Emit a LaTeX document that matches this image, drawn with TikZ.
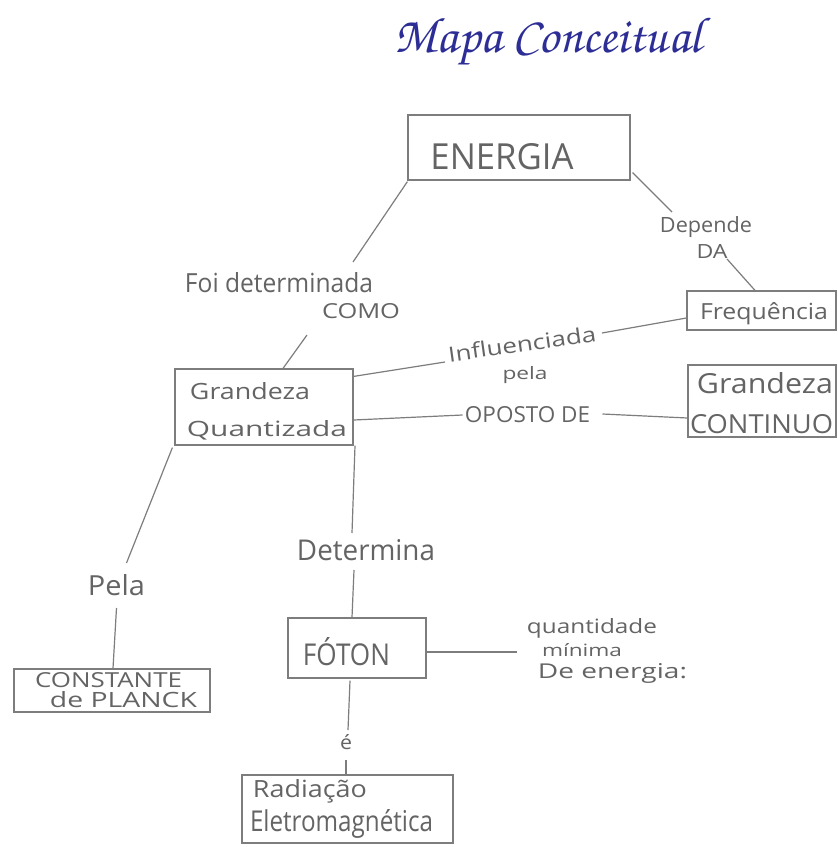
\documentclass[tikz,border=0pt]{standalone}
\usepackage[T1]{fontenc}
\usepackage{fontspec}
\newfontfamily\handfont{Open Sans}
\usetikzlibrary{calc}
\definecolor{pencil}{RGB}{125,125,125}
\definecolor{graphite}{RGB}{100,100,100}
\definecolor{ink}{RGB}{45,45,150}
% set a piece of text to a given width and height above the baseline (in pt)
\newcommand\txtw[3]{\resizebox{#1pt}{#2pt}{#3}}
\newcommand\titlehand{\fontencoding{T1}\fontfamily{pzc}\fontseries{mb}\fontshape{it}\selectfont}

\begin{document}
\begin{tikzpicture}[x=1pt,y=-1pt,
  concept/.style={draw=pencil, line width=1.2pt, inner sep=0pt, rectangle},
  words/.style={inner sep=0pt, text=graphite, font=\handfont},
  link/.style={draw=pencil, line width=1.2pt}]
\useasboundingbox[fill=white] (0,0) rectangle (838,847);

% title
\node[inner sep=0pt, text=ink, font=\titlehand] (title) at (548,42) {\resizebox{307pt}{!}{Mapa Conceitual}};

% concept boxes
\node[concept, minimum width=222pt, minimum height=65pt] (energia) at (519,147.5) {};
\node[concept, minimum width=178pt, minimum height=76pt] (gq) at (264,407) {};
\node[concept, minimum width=149pt, minimum height=39pt] (freq) at (761.5,310.5) {};
\node[concept, minimum width=148pt, minimum height=72pt] (gc) at (762,401) {};
\node[concept, minimum width=196pt, minimum height=43pt] (planck) at (112,690.5) {};
\node[concept, minimum width=138pt, minimum height=60pt] (foton) at (357,648) {};
\node[concept, minimum width=211pt, minimum height=68pt] (rad) at (347.5,809) {};

% texts inside the boxes
\node[words] (energiaT) at (502,157) {\txtw{143}{26}{ENERGIA}};
\node[words] (gqA) at (250,391) {\txtw{120}{17}{Grandeza}};
\node[words] (gqB) at (267,430) {\txtw{160}{16}{Quantizada}};
\node[words] (freqT) at (764,314) {\txtw{128}{17}{Frequência}};
\node[words] (gcA) at (765,383) {\txtw{136}{21}{Grandeza}};
\node[words] (gcB) at (761.5,424) {\txtw{143}{19}{CONTINUO}};
\node[words] (planckA) at (108.5,680) {\txtw{147}{15}{CONSTANTE}};
\node[words] (planckB) at (123.5,700) {\txtw{147}{16}{de PLANCK}};
\node[words] (fotonT) at (346.5,652) {\txtw{87}{28}{FÓTON}};
\node[words] (radA) at (310,791) {\txtw{114}{18}{Radiação}};
\node[words] (radB) at (341.5,824) {\txtw{183}{22}{Eletromagnética}};

% linking phrases
\node[words] (foi) at (279,283) {\txtw{188}{20}{Foi determinada}};
\node[words] (como) at (361,311) {\txtw{78}{15}{COMO}};
\node[words] (depende) at (706,227) {\txtw{92}{16}{Depende}};
\node[words] (da) at (712,251) {\txtw{31}{14}{DA}};
\node[words, rotate=8] (infl) at (522,344) {\txtw{149}{16}{Influenciada}};
\node[words] (pelaI) at (525,375) {\txtw{45}{13}{pela}};
\node[words] (oposto) at (527.5,415) {\txtw{125}{16}{OPOSTO DE}};
\node[words] (pela) at (116.5,585) {\txtw{57}{21}{Pela}};
\node[words] (determina) at (366,550) {\txtw{138}{21}{Determina}};
\node[words] (eh) at (346,742) {\txtw{12}{15}{é}};
\node[words] (quant) at (592,628) {\txtw{130}{15}{quantidade}};
\node[words] (minima) at (582,650) {\txtw{80}{13}{mínima}};
\node[words] (deen) at (612.5,673) {\txtw{149}{15}{De energia:}};

% connectors
\draw[link] ($(energia.south west)+(0,1)$) -- ($(foi)+(74,-21)$);
\draw[link] ($(como)+(-54,24)$) -- ($(gq.north)+(19,0)$);
\draw[link] ($(energia.south east)+(2,-8)$) -- ($(depende)+(-34,-15)$);
\draw[link] ($(da)+(15,8)$) -- ($(freq.north)+(-6.5,0)$);
\draw[link] ($(gq.north east)+(0,8)$) -- ($(infl)+(-77,18)$);
\draw[link] ($(infl)+(80,-11)$) -- ($(freq.west)+(0,7.5)$);
\draw[link] ($(gq.east)+(0,13)$) -- ($(oposto)+(-65,0)$);
\draw[link] ($(oposto)+(75,-1)$) -- ($(gc.west)+(0,17)$);
\draw[link] ($(gq.south west)+(-2,2)$) -- ($(pela)+(10,-22)$);
\draw[link] ($(pela)+(0,23)$) -- ($(planck.north)+(1,0)$);
\draw[link] ($(gq.south)+(91,0)$) -- ($(determina)+(-14,-17)$);
\draw[link] ($(determina)+(-12,20)$) -- ($(foton.north)+(-5,0)$);
\draw[link] ($(foton.east)+(0,4)$) -- ($(minima)+(-65,2)$);
\draw[link] ($(foton.south)+(-7,2)$) -- ($(eh)+(2,-12)$);
\draw[link] ($(eh)+(0,18)$) -- ($(rad.north)+(-1.5,0)$);
\end{tikzpicture}
\end{document}
